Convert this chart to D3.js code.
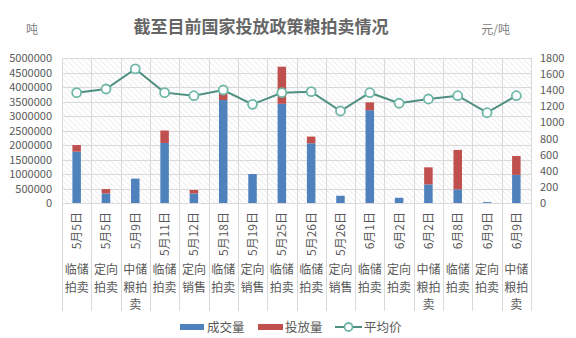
<!DOCTYPE html>
<html>
<head>
<meta charset="utf-8">
<script src="https://cdn.jsdelivr.net/npm/d3@7/dist/d3.min.js"></script>
<style>
  body { margin: 0; background: #fff; }
  text { font-family: "Noto Sans CJK SC", "Noto Sans", sans-serif; fill: #595959; }
</style>
</head>
<body>
<svg id="chart" width="576" height="338"></svg>
<script>
var dates = ["5月5日", "5月5日", "5月9日", "5月11日", "5月12日", "5月18日", "5月19日", "5月25日",
  "5月26日", "5月26日", "6月1日", "6月2日", "6月2日", "6月8日", "6月9日", "6月9日"];
var types = ["临储拍卖", "定向拍卖", "中储粮拍卖", "临储拍卖", "定向销售", "临储拍卖", "定向销售", "临储拍卖",
  "临储拍卖", "定向销售", "临储拍卖", "定向拍卖", "中储粮拍卖", "临储拍卖", "定向拍卖", "中储粮拍卖"];
// 成交量 (blue, bottom) and 投放量 remainder (red, stacked on top)
var traded = [1770000, 330000, 840000, 2070000, 330000, 3550000, 1000000, 3420000,
  2060000, 250000, 3200000, 180000, 640000, 470000, 30000, 970000];
var offered = [230000, 150000, 0, 430000, 120000, 300000, 0, 1280000,
  230000, 0, 270000, 0, 590000, 1360000, 0, 650000];
var avgPrice = [1370, 1415, 1665, 1370, 1332, 1403, 1225, 1369,
  1382, 1142, 1369, 1238, 1291, 1332, 1121, 1332];
var leftTicks = d3.range(0, 5000001, 500000);
var rightTicks = d3.range(0, 1801, 200);

var svg = d3.select("#chart");
var plotLeft = 62, plotRight = 531, plotTop = 58, plotBottom = 203;

var x = d3.scaleBand().domain(d3.range(dates.length)).range([plotLeft, plotRight]);
var y = d3.scaleLinear().domain([0, 5000000]).range([plotBottom, plotTop]);
var y2 = d3.scaleLinear().domain([0, 1800]).range([plotBottom, plotTop]);

// hatch background
var defs = svg.append("defs");
var pat = defs.append("pattern")
  .attr("id", "hatch")
  .attr("patternUnits", "userSpaceOnUse")
  .attr("width", 4).attr("height", 4)
  .attr("patternTransform", "rotate(-45)");
pat.append("line")
  .attr("x1", 0).attr("y1", 0).attr("x2", 0).attr("y2", 4)
  .attr("stroke", "#dedede").attr("stroke-width", 1);

svg.append("rect")
  .attr("x", plotLeft).attr("y", plotTop)
  .attr("width", plotRight - plotLeft).attr("height", plotBottom - plotTop)
  .attr("fill", "url(#hatch)");

// title + units
svg.append("text")
  .attr("x", 261).attr("y", 33)
  .attr("text-anchor", "middle")
  .style("font-size", "17px").style("font-weight", "bold")
  .style("fill", "#666")
  .text("截至目前国家投放政策粮拍卖情况");
svg.append("text").attr("x", 32).attr("y", 34).attr("text-anchor", "middle")
  .style("font-size", "12px").style("fill", "#808080").text("吨");
svg.append("text").attr("x", 510).attr("y", 34).attr("text-anchor", "end")
  .style("font-size", "12px").style("fill", "#808080").text("元/吨");

// horizontal grid
svg.append("g")
  .selectAll("line")
  .data(leftTicks)
  .join("line")
  .attr("x1", plotLeft).attr("x2", plotRight)
  .attr("y1", function (d) { return Math.round(y(d)) + 0.5; })
  .attr("y2", function (d) { return Math.round(y(d)) + 0.5; })
  .attr("stroke", "#d9d9d9");

// vertical category lines (down through the label table)
var bounds = d3.range(dates.length + 1).map(function (i) {
  return plotLeft + i * x.bandwidth();
});
svg.append("g")
  .selectAll("line")
  .data(bounds)
  .join("line")
  .attr("x1", function (d) { return Math.round(d) + 0.5; })
  .attr("x2", function (d) { return Math.round(d) + 0.5; })
  .attr("y1", plotTop).attr("y2", 311)
  .attr("stroke", "#d9d9d9");

// left axis
var yAxis = d3.axisLeft(y).tickValues(leftTicks).tickSize(0).tickPadding(10)
  .tickFormat(d3.format("d"));
var gL = svg.append("g").attr("transform", "translate(" + plotLeft + ",0)").call(yAxis);
gL.select(".domain").remove();
gL.attr("font-family", null);
gL.selectAll("text").style("font-size", "11px").style("fill", "#595959");

// right axis
var y2Axis = d3.axisRight(y2).tickValues(rightTicks).tickSize(0).tickPadding(9)
  .tickFormat(d3.format("d"));
var gR = svg.append("g").attr("transform", "translate(" + plotRight + ",0)").call(y2Axis);
gR.select(".domain").remove();
gR.attr("font-family", null);
gR.selectAll("text").style("font-size", "11px").style("fill", "#595959");

// bars
var bw = 8.5;
var bars = svg.append("g");
bars.selectAll(".traded")
  .data(traded)
  .join("rect")
  .attr("class", "traded")
  .attr("x", function (d, i) { return x(i) + x.bandwidth() / 2 - bw / 2; })
  .attr("y", function (d) { return y(d); })
  .attr("width", bw)
  .attr("height", function (d) { return plotBottom - y(d); })
  .attr("fill", "#4f81bd");
bars.selectAll(".offered")
  .data(offered)
  .join("rect")
  .attr("class", "offered")
  .attr("x", function (d, i) { return x(i) + x.bandwidth() / 2 - bw / 2; })
  .attr("y", function (d, i) { return y(d + traded[i]); })
  .attr("width", bw)
  .attr("height", function (d) { return y(0) - y(d); })
  .attr("fill", "#c0504d");

// price line
var line = d3.line()
  .x(function (d, i) { return x(i) + x.bandwidth() / 2; })
  .y(function (d) { return y2(d); });
svg.append("path")
  .datum(avgPrice)
  .attr("d", line)
  .attr("fill", "none")
  .attr("stroke", "#4e8f80")
  .attr("stroke-width", 2);
svg.append("g")
  .selectAll("circle")
  .data(avgPrice)
  .join("circle")
  .attr("cx", function (d, i) { return x(i) + x.bandwidth() / 2; })
  .attr("cy", function (d) { return y2(d); })
  .attr("r", 4.5)
  .attr("fill", "#fff")
  .attr("stroke", "#6fb7a6")
  .attr("stroke-width", 1.8);

// date labels (rotated)
svg.append("g")
  .selectAll("text")
  .data(dates)
  .join("text")
  .attr("transform", function (d, i) {
    return "translate(" + (x(i) + x.bandwidth() / 2 + 4.5) + ",212) rotate(-90)";
  })
  .attr("text-anchor", "end")
  .style("font-size", "12px")
  .text(function (d) { return d; });

// type labels, two characters per line, one text per line
var typeLines = [];
types.forEach(function (d, i) {
  d.match(/.{1,2}/g).forEach(function (p, k) {
    typeLines.push({ i: i, k: k, s: p });
  });
});
svg.append("g")
  .selectAll("text")
  .data(typeLines)
  .join("text")
  .attr("x", function (d) { return x(d.i) + x.bandwidth() / 2; })
  .attr("y", function (d) { return 274 + d.k * 17.6; })
  .attr("text-anchor", "middle")
  .style("font-size", "12px")
  .text(function (d) { return d.s; });

// legend
var lg = svg.append("g").attr("transform", "translate(0,327)");
lg.append("rect").attr("x", 180).attr("y", -3).attr("width", 24).attr("height", 6).attr("fill", "#4f81bd");
lg.append("text").attr("x", 207).attr("y", 5).style("font-size", "12.5px").text("成交量");
lg.append("rect").attr("x", 258).attr("y", -3).attr("width", 25).attr("height", 6).attr("fill", "#c0504d");
lg.append("text").attr("x", 285).attr("y", 5).style("font-size", "12.5px").text("投放量");
lg.append("line").attr("x1", 335).attr("x2", 362).attr("y1", 0).attr("y2", 0)
  .attr("stroke", "#4e8f80").attr("stroke-width", 2);
lg.append("circle").attr("cx", 348.5).attr("cy", 0).attr("r", 4)
  .attr("fill", "#fff").attr("stroke", "#6fb7a6").attr("stroke-width", 1.8);
lg.append("text").attr("x", 364).attr("y", 5).style("font-size", "12.5px").text("平均价");
</script>
</body>
</html>
